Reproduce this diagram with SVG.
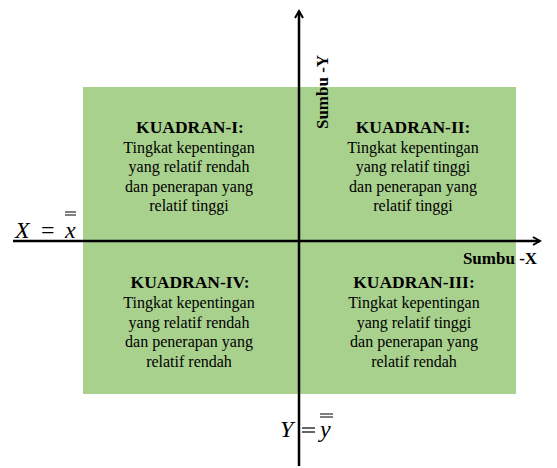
<svg xmlns="http://www.w3.org/2000/svg" width="557" height="468" viewBox="0 0 557 468">
<style>
text{font-family:"Liberation Serif","DejaVu Serif",serif;fill:#000}
.t{font-size:16px;text-anchor:middle}
.h{font-size:17.5px;font-weight:bold;text-anchor:middle}
.m{font-size:24px;font-style:italic}
.e{font-size:24px}
.ax{stroke:#000;stroke-width:2.5;fill:none}
</style>
<defs>
<marker id="arr" markerWidth="10" markerHeight="10" refX="8" refY="5" orient="auto" markerUnits="userSpaceOnUse">
<path d="M1,1 L8,5 L1,9" fill="none" stroke="#000" stroke-width="2"/>
</marker>
</defs>
<rect id="field" x="83" y="87" width="433" height="307" fill="#a9d18e"/>
<g id="connectors">
<line class="ax" x1="13" y1="241" x2="540" y2="241" marker-end="url(#arr)"/>
<line class="ax" x1="299" y1="466" x2="299" y2="11" marker-end="url(#arr)"/>
</g>
<g id="q1">
<text class="h" x="190" y="133">KUADRAN-I:</text>
<text class="t" x="189" y="153">Tingkat kepentingan</text>
<text class="t" x="189" y="172">yang relatif rendah</text>
<text class="t" x="189" y="192">dan penerapan yang</text>
<text class="t" x="189" y="211">relatif tinggi</text>
</g>
<g id="q2">
<text class="h" x="413" y="133">KUADRAN-II:</text>
<text class="t" x="413" y="153">Tingkat kepentingan</text>
<text class="t" x="413" y="172">yang relatif tinggi</text>
<text class="t" x="413" y="192">dan penerapan yang</text>
<text class="t" x="413" y="211">relatif tinggi</text>
</g>
<g id="q4">
<text class="h" x="190" y="288">KUADRAN-IV:</text>
<text class="t" x="189" y="308">Tingkat kepentingan</text>
<text class="t" x="189" y="328">yang relatif rendah</text>
<text class="t" x="189" y="347">dan penerapan yang</text>
<text class="t" x="189" y="367">relatif rendah</text>
</g>
<g id="q3">
<text class="h" x="414" y="288">KUADRAN-III:</text>
<text class="t" x="414" y="308">Tingkat kepentingan</text>
<text class="t" x="414" y="328">yang relatif tinggi</text>
<text class="t" x="414" y="347">dan penerapan yang</text>
<text class="t" x="414" y="367">relatif rendah</text>
</g>
<g id="labels">
<text class="h" transform="translate(328,92) rotate(-90)" style="font-size:17px">Sumbu -Y</text>
<text class="h" x="500" y="264" style="font-size:17px">Sumbu -X</text>
<text class="m" x="15" y="238">X</text>
<text class="e" x="41" y="238">=</text>
<text class="m" x="65" y="238">x</text>
<line x1="65" y1="212" x2="76" y2="212" stroke="#000" stroke-width="1"/>
<line x1="65" y1="215" x2="76" y2="215" stroke="#000" stroke-width="1"/>
<text class="m" x="280" y="437">Y</text>
<line x1="302" y1="428" x2="315" y2="428" stroke="#000" stroke-width="1.2"/>
<line x1="302" y1="432" x2="315" y2="432" stroke="#000" stroke-width="1.2"/>
<text class="m" x="320" y="437">y</text>
<line x1="320" y1="414" x2="333" y2="414" stroke="#000" stroke-width="1"/>
<line x1="320" y1="417" x2="333" y2="417" stroke="#000" stroke-width="1"/>
</g>
</svg>
